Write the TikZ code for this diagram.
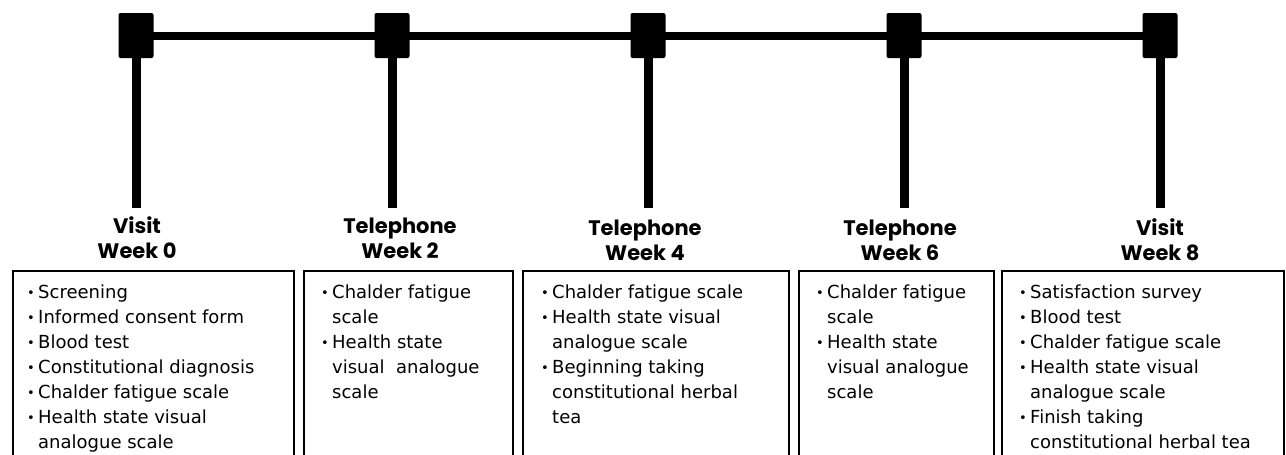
\documentclass[tikz,border=0pt]{standalone}
\usepackage{fontspec}
\setmainfont{DejaVu Sans}
\newfontfamily\hdrfont{Poppins}
\newcommand\bl{\makebox[11pt][l]{\raisebox{0.5pt}{\fontsize{13}{13}\selectfont •}}}
\newcommand\ind{\hspace*{11pt}}
\begin{document}
\begin{tikzpicture}[x=1pt,y=-1pt,
  sq/.style={fill=black, draw=none, minimum width=35pt, minimum height=45pt, rounded corners=2pt, inner sep=0pt},
  barline/.style={line width=8pt},
  stemline/.style={line width=9pt},
  boxnode/.style={draw, line width=1.8pt, anchor=north west, inner sep=0pt, minimum height=220pt},
  hdr/.style={font=\hdrfont\bfseries\fontsize{21}{25}\selectfont, align=center, anchor=north, inner sep=0pt},
  body/.style={font=\fontsize{18}{25}\selectfont, align=left, anchor=north west, inner sep=0pt}]
\useasboundingbox (0,0) rectangle (1286,455);
\clip (0,0) rectangle (1286,455);

% timeline squares
\node[sq] (s0) at (136,35.5) {};
\node[sq] (s1) at (392,35.5) {};
\node[sq] (s2) at (648,35.5) {};
\node[sq] (s3) at (904,35.5) {};
\node[sq] (s4) at (1160,35.5) {};
\draw[barline] (s0.center) -- (s4.center);

% stem ends
\coordinate (e0) at (136,208);
\coordinate (e1) at (392,208);
\coordinate (e2) at (648,208);
\coordinate (e3) at (904,208);
\coordinate (e4) at (1160,208);
\foreach \i in {0,...,4} \draw[stemline] (s\i.center) -- (e\i);

% headers
\node[hdr] (h0) at (137,215.5) {\strut Visit\\Week 0};
\node[hdr] (h1) at (400,215.5) {\strut Telephone\\Week 2};
\node[hdr] (h2) at (645,217.5) {\strut Telephone\\Week 4};
\node[hdr] (h3) at (900,217.5) {\strut Telephone\\Week 6};
\node[hdr] (h4) at (1160,217.5) {\strut Visit\\Week 8};

% boxes
\node[boxnode, minimum width=281pt] (b0) at (12,270) {};
\node[boxnode, minimum width=209pt] (b1) at (303,270) {};
\node[boxnode, minimum width=266pt] (b2) at (522,270) {};
\node[boxnode, minimum width=195pt] (b3) at (798,270) {};
\node[boxnode, minimum width=282pt] (b4) at (1001,270) {};

% box texts
\node[body] (t0) at (27,280.5) {\strut\bl Screening\\\bl Informed consent form\\\bl Blood test\\\bl Constitutional diagnosis\\\bl Chalder fatigue scale\\\bl Health state visual\\\ind analogue scale};
\node[body] (t1) at (321,280.5) {\strut\bl Chalder fatigue\\\ind scale\\\bl Health state\\\ind visual\ \ analogue\\\ind scale};
\node[body] (t2) at (541,280.5) {\strut\bl Chalder fatigue scale\\\bl Health state visual\\\ind analogue scale\\\bl Beginning taking\\\ind constitutional herbal\\\ind tea};
\node[body] (t3) at (816,280.5) {\strut\bl Chalder fatigue\\\ind scale\\\bl Health state\\\ind visual analogue\\\ind scale};
\node[body] (t4) at (1019,280.5) {\strut\bl Satisfaction survey\\\bl Blood test\\\bl Chalder fatigue scale\\\bl Health state visual\\\ind analogue scale\\\bl Finish taking\\\ind constitutional herbal tea};
\end{tikzpicture}
\end{document}
